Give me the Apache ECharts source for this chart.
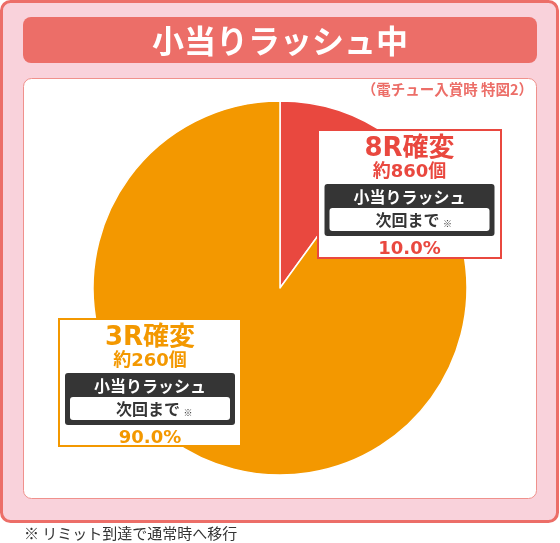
<!DOCTYPE html>
<html>
<head>
<meta charset="utf-8">
<script src="https://cdn.jsdelivr.net/npm/echarts@6/dist/echarts.min.js"></script>
<style>
html,body{margin:0;padding:0;background:#fff;}
#c{width:560px;height:543px;}
</style>
</head>
<body>
<div id="c"></div>
<script>
// ---- data ----
const title = '小当りラッシュ中';
const subtitle = '（電チュー入賞時 特図2）';
const footnote = '※ リミット到達で通常時へ移行';
const categories = ['8R確変', '3R確変'];
const counts = ['約860個', '約260個'];
const shares = [10.0, 90.0];
const rushLabel = '小当りラッシュ';
const untilLabel = '次回まで';

// ---- styles ----
const FONT = '"Noto Sans CJK JP", "Noto Sans", sans-serif';
const FONT_NUM = '"DejaVu Sans", "Noto Sans CJK JP", sans-serif';
const sliceColors = ['#e9483f', '#f39800'];
const dark = '#353535';
const pink = '#ec6e68';

const chart = echarts.init(document.getElementById('c'), null, {renderer: 'canvas'});

function txt(text, x, y, size, color, weight, z, align, family) {
  return {
    type: 'text', z: z || 100, silent: true,
    style: {
      text: text, x: x, y: y, fill: color,
      fontSize: size, fontWeight: weight || 'bold', fontFamily: family || FONT,
      align: align || 'center', verticalAlign: 'middle',
      textAlign: align || 'center', textVerticalAlign: 'middle'
    }
  };
}

function labelBox(i, box) {
  const c = sliceColors[i];
  const cx = box.x + box.w / 2;
  const els = [];
  els.push({type: 'rect', z: 100, silent: true,
    shape: {x: box.x + 1, y: box.y + 1, width: box.w - 2, height: box.h - 2},
    style: {fill: '#fff', stroke: c, lineWidth: 2}});
  els.push(txt(categories[i], cx, box.y + 20, 26, c, 'bold', 101, 'center', FONT_NUM));
  els.push(txt(counts[i], cx, box.y + 43, 18, c, 'bold', 101, 'center', FONT_NUM));
  els.push({type: 'rect', z: 101, silent: true,
    shape: {x: cx - 85, y: box.y + 55, width: 170, height: 52, r: 3},
    style: {fill: dark}});
  els.push(txt(rushLabel, cx, box.y + 68, 16, '#fff', 'bold', 102));
  els.push({type: 'rect', z: 102, silent: true,
    shape: {x: cx - 80, y: box.y + 79, width: 160, height: 23, r: 3},
    style: {fill: '#fff'}});
  els.push(txt(untilLabel, cx - 2, box.y + 91, 16, dark, 'bold', 103));
  els.push(txt('※', cx + 38, box.y + 95, 9, dark, 'bold', 103));
  els.push(txt(shares[i].toFixed(1) + '%', cx, box.y + 120, 18, c, 'bold', 101, 'center', FONT_NUM));
  return els;
}

const elements = [
  {type: 'rect', z: -10, silent: true,
    shape: {x: 1.5, y: 1.5, width: 556, height: 520, r: 9},
    style: {fill: '#f9d2db', stroke: pink, lineWidth: 3}},
  {type: 'rect', z: -9, silent: true,
    shape: {x: 23, y: 17, width: 514, height: 46, r: 8},
    style: {fill: pink}},
  txt(title, 280, 41, 32, '#fff', 'bold', -8),
  {type: 'rect', z: -9, silent: true,
    shape: {x: 23.5, y: 78.5, width: 513, height: 420, r: 8},
    style: {fill: '#fff', stroke: '#f0918c', lineWidth: 1}},
  txt(subtitle, 533, 89, 14.5, pink, 'bold', -8, 'right'),
  txt(footnote, 24, 533, 15, '#333', 'normal', -8, 'left')
].concat(
  labelBox(0, {x: 317, y: 129, w: 185, h: 130}),
  labelBox(1, {x: 58, y: 318, w: 184, h: 129})
);

chart.setOption({
  animation: false,
  graphic: {elements: elements},
  series: [{
    type: 'pie',
    silent: true,
    center: [280, 288],
    radius: 187,
    startAngle: 90,
    clockwise: true,
    label: {show: false},
    labelLine: {show: false},
    itemStyle: {borderColor: '#fff', borderWidth: 1.5},
    data: categories.map((name, i) => ({
      name: name, value: shares[i], itemStyle: {color: sliceColors[i]}
    }))
  }]
});
</script>
</body>
</html>
